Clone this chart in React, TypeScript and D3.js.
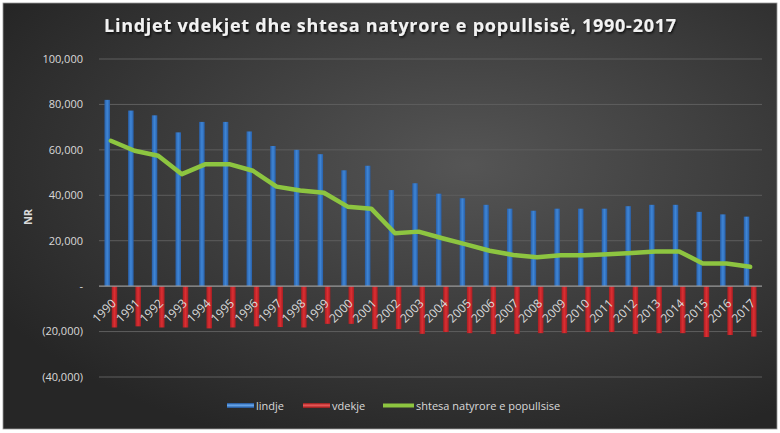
import { useEffect, useRef } from 'react'
import * as d3 from 'd3'

const years = [
  '1990', '1991', '1992', '1993', '1994', '1995', '1996', '1997', '1998', '1999',
  '2000', '2001', '2002', '2003', '2004', '2005', '2006', '2007', '2008', '2009',
  '2010', '2011', '2012', '2013', '2014', '2015', '2016', '2017',
]

// lindje (births)
const births = [
  82000, 77300, 75200, 67700, 72300, 72300, 68100, 61700, 60000, 58100,
  51000, 53000, 42300, 45300, 40700, 38700, 35800, 34100, 33200, 34100,
  34100, 34100, 35200, 35800, 35800, 32700, 31600, 30600,
]

// vdekje (deaths, drawn below zero)
const deaths = [
  -18200, -17700, -18200, -18200, -18600, -18200, -17700, -18000, -18200, -16600,
  -16600, -18900, -18900, -21000, -20200, -20700, -21100, -21000, -20700, -20700,
  -20200, -20200, -21000, -20700, -20700, -22400, -21500, -22200,
]

// shtesa natyrore (natural increase)
const increase = [
  64000, 59600, 57400, 49300, 53700, 53700, 50800, 43800, 42100, 41100,
  35000, 34100, 23300, 24000, 21100, 18400, 15600, 13700, 12700, 13600,
  13600, 14000, 14600, 15300, 15300, 10000, 10000, 8500,
]

const yTicks = [-40000, -20000, 0, 20000, 40000, 60000, 80000, 100000]

const title = 'Lindjet vdekjet dhe shtesa natyrore e popullsisë, 1990-2017'

const fmt = (v: number) => {
  if (v === 0) return '-'
  const s = d3.format(',')(Math.abs(v))
  return v < 0 ? `(${s})` : s
}

export default function App() {
  const ref = useRef<SVGSVGElement>(null)

  useEffect(() => {
    if (!ref.current) return
    const svg = d3.select(ref.current)
    svg.selectAll('*').remove()

    const W = 780
    const H = 433
    const margin = { top: 59, right: 18, bottom: 56, left: 99 }
    const innerW = W - margin.left - margin.right
    const innerH = H - margin.top - margin.bottom

    const defs = svg.append('defs')

    // chart background gradient
    const bg = defs.append('radialGradient').attr('id', 'bg')
      .attr('cx', '60%').attr('cy', '38%').attr('r', '70%')
    bg.append('stop').attr('offset', '0%').attr('stop-color', '#555555')
    bg.append('stop').attr('offset', '100%').attr('stop-color', '#262626')

    const barGrad = (id: string, edge: string, mid: string) => {
      const lg = defs.append('linearGradient').attr('id', id)
        .attr('x1', '0%').attr('x2', '100%').attr('y1', '0%').attr('y2', '0%')
      lg.append('stop').attr('offset', '0%').attr('stop-color', edge)
      lg.append('stop').attr('offset', '50%').attr('stop-color', mid)
      lg.append('stop').attr('offset', '100%').attr('stop-color', edge)
    }
    barGrad('blue', '#285fa8', '#3f86d6')
    barGrad('red', '#a81e22', '#dc2f33')

    const shadow = defs.append('filter').attr('id', 'shadow')
      .attr('x', '-5%').attr('y', '-30%').attr('width', '110%').attr('height', '160%')
    shadow.append('feDropShadow').attr('dx', 1).attr('dy', 1.5)
      .attr('stdDeviation', 1).attr('flood-color', '#000').attr('flood-opacity', 0.8)

    // spreadsheet backdrop
    svg.append('rect').attr('width', W).attr('height', H).attr('fill', '#ffffff')
    svg.append('rect')
      .attr('x', 3).attr('y', 3).attr('width', 774).attr('height', 426)
      .attr('fill', 'url(#bg)')
      .attr('stroke', '#9a9a9a').attr('stroke-width', 0.8)

    const g = svg.append('g').attr('transform', `translate(${margin.left},${margin.top})`)

    const x = d3.scaleBand().domain(years).range([0, innerW]).padding(0)
    const xs = d3.scaleBand().domain(['lindje', 'vdekje'])
      .range([0, x.bandwidth()]).paddingInner(0.24).paddingOuter(0.75)
    const y = d3.scaleLinear().domain([-40000, 100000]).range([innerH, 0])

    // grid
    g.append('g')
      .selectAll('line')
      .data(yTicks.filter(t => t !== 0))
      .enter()
      .append('line')
      .attr('x1', 0).attr('x2', innerW)
      .attr('y1', d => y(d)).attr('y2', d => y(d))
      .attr('stroke', '#5e5e5e').attr('stroke-width', 1)

    // y axis labels
    g.append('g')
      .selectAll('text')
      .data(yTicks)
      .enter()
      .append('text')
      .attr('x', -16)
      .attr('y', d => y(d))
      .attr('dy', '0.35em')
      .attr('text-anchor', 'end')
      .style('font-family', '"Open Sans", sans-serif')
      .style('font-size', '11px')
      .style('fill', '#d9d9d9')
      .text(d => fmt(d))

    // y axis title
    g.append('text')
      .attr('transform', 'rotate(-90)')
      .attr('x', -innerH / 2 + 1)
      .attr('y', -67)
      .attr('text-anchor', 'middle')
      .style('font-family', '"Open Sans", sans-serif')
      .style('font-size', '11px')
      .style('font-weight', 700)
      .style('fill', '#d9d9d9')
      .text('NR')

    // births bars
    g.append('g')
      .selectAll('rect')
      .data(births)
      .enter()
      .append('rect')
      .attr('x', (d, i) => (x(years[i]) || 0) + (xs('lindje') || 0))
      .attr('y', d => y(d))
      .attr('width', xs.bandwidth())
      .attr('height', d => y(0) - y(d))
      .attr('fill', 'url(#blue)')

    // deaths bars
    g.append('g')
      .selectAll('rect')
      .data(deaths)
      .enter()
      .append('rect')
      .attr('x', (d, i) => (x(years[i]) || 0) + (xs('vdekje') || 0))
      .attr('y', y(0))
      .attr('width', xs.bandwidth())
      .attr('height', d => y(d) - y(0))
      .attr('fill', 'url(#red)')

    // zero line
    g.append('line')
      .attr('x1', 0).attr('x2', innerW)
      .attr('y1', y(0)).attr('y2', y(0))
      .attr('stroke', '#9a9a9a').attr('stroke-width', 1.2)

    // x labels, rotated
    g.append('g')
      .selectAll('text')
      .data(years)
      .enter()
      .append('text')
      .attr('transform', d => `translate(${(x(d) || 0) + x.bandwidth() / 2 + 3},${y(0) + 15}) rotate(-45)`)
      .attr('text-anchor', 'end')
      .attr('dy', '0.35em')
      .style('font-family', '"Open Sans", sans-serif')
      .style('font-size', '12px')
      .style('fill', '#d9d9d9')
      .text(d => d)

    // natural increase line
    const line = d3.line<number>()
      .x((d, i) => (x(years[i]) || 0) + x.bandwidth() / 2)
      .y(d => y(d))
    g.append('path')
      .datum(increase)
      .attr('d', line)
      .attr('fill', 'none')
      .attr('stroke', '#8dc540')
      .attr('stroke-width', 4.5)
      .attr('stroke-linejoin', 'round')
      .attr('stroke-linecap', 'round')

    // title
    svg.append('text')
      .attr('x', 390)
      .attr('y', 32)
      .attr('text-anchor', 'middle')
      .attr('filter', 'url(#shadow)')
      .attr('textLength', 572)
      .attr('lengthAdjust', 'spacing')
      .style('font-family', '"Open Sans", sans-serif')
      .style('font-size', '18px')
      .style('font-weight', 700)
      .style('fill', '#f2f2f2')
      .text(title)

    // legend
    const vGrad = (id: string, edge: string, mid: string) => {
      const lg = defs.append('linearGradient').attr('id', id)
        .attr('x1', '0%').attr('x2', '0%').attr('y1', '0%').attr('y2', '100%')
      lg.append('stop').attr('offset', '0%').attr('stop-color', edge)
      lg.append('stop').attr('offset', '45%').attr('stop-color', mid)
      lg.append('stop').attr('offset', '100%').attr('stop-color', edge)
    }
    vGrad('blueL', '#1d4f91', '#6aaaf0')
    vGrad('redL', '#8e1818', '#ef5a5a')

    const legend = svg.append('g')
      .style('font-family', '"Open Sans", sans-serif')
      .style('font-size', '11px')
    const items = [
      { label: 'lindje', x: 227, kind: 'bar', fill: 'url(#blueL)', w: 27 },
      { label: 'vdekje', x: 303, kind: 'bar', fill: 'url(#redL)', w: 27 },
      { label: 'shtesa natyrore e popullsise', x: 383, kind: 'line', fill: '#8dc540', w: 31 },
    ]
    items.forEach(it => {
      if (it.kind === 'bar') {
        legend.append('rect')
          .attr('x', it.x).attr('y', 403).attr('width', it.w).attr('height', 5)
          .attr('fill', it.fill)
      } else {
        legend.append('line')
          .attr('x1', it.x).attr('x2', it.x + it.w)
          .attr('y1', 405.5).attr('y2', 405.5)
          .attr('stroke', it.fill).attr('stroke-width', 4)
      }
      legend.append('text')
        .attr('x', it.x + it.w + 2)
        .attr('y', 406)
        .attr('dy', '0.35em')
        .style('fill', '#d9d9d9')
        .text(it.label)
    })
  }, [])

  return (
    <svg
      ref={ref}
      width={780}
      height={433}
      style={{ position: 'absolute', left: 0, top: 0, display: 'block' }}
    />
  )
}
